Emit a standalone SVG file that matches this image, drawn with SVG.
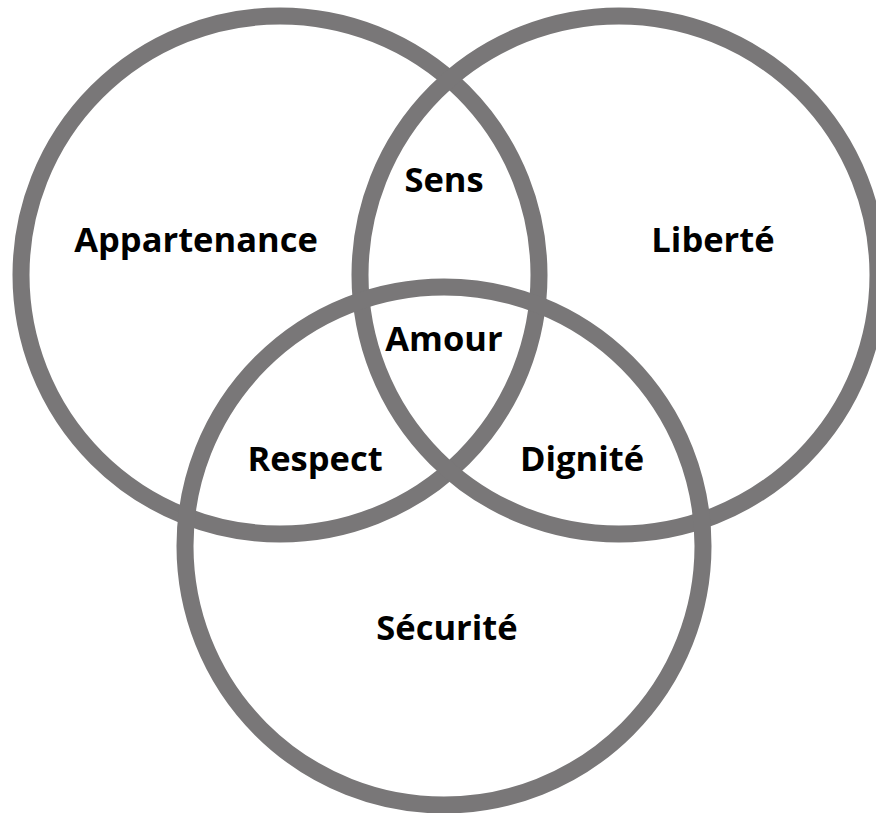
<svg xmlns="http://www.w3.org/2000/svg" width="876" height="813" viewBox="0 0 876 813">
<style>
.c{fill:none;stroke:#797778;stroke-width:17}
.t{font-family:"Open Sans","Noto Sans",sans-serif;font-weight:bold;font-size:34.5px;fill:#000;text-anchor:middle}
</style>
<rect width="876" height="813" fill="#fff"/>
<g id="circle-appartenance"><circle class="c" cx="280" cy="275" r="259"/></g>
<g id="circle-liberte"><circle class="c" cx="619" cy="275" r="259"/></g>
<g id="circle-securite"><circle class="c" cx="444" cy="546" r="259"/></g>
<g id="labels">
<text class="t" x="196" y="252">Appartenance</text>
<text class="t" x="444" y="192">Sens</text>
<text class="t" x="713" y="252">Liberté</text>
<text class="t" x="444" y="351">Amour</text>
<text class="t" x="315" y="471">Respect</text>
<text class="t" x="582" y="471">Dignité</text>
<text class="t" x="447" y="640">Sécurité</text>
</g>
</svg>
